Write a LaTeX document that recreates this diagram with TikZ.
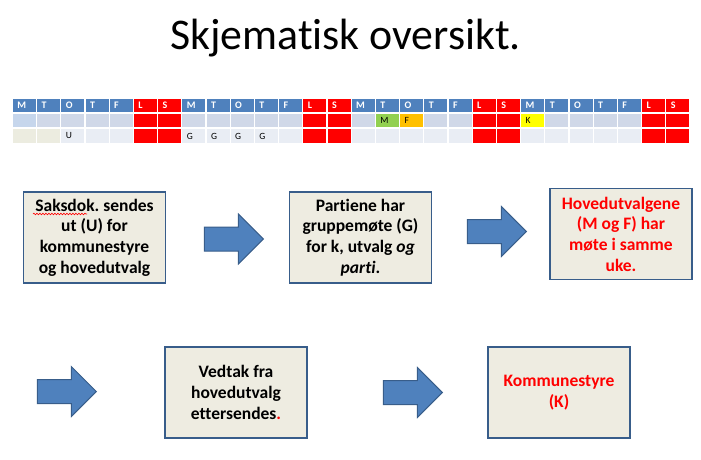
\documentclass[tikz,border=0pt]{standalone}
\usepackage{fontspec}
\setmainfont{Carlito}[Ligatures=NoCommon]
\usetikzlibrary{shapes.arrows,decorations.pathmorphing}
\definecolor{hdblue}{HTML}{4F81BD}
\definecolor{wkend}{HTML}{FF0000}
\definecolor{rowtwo}{HTML}{D0D8E8}
\definecolor{rowthree}{HTML}{E9EDF4}
\definecolor{firstblue}{HTML}{C6D6EC}
\definecolor{cellbeige}{HTML}{ECECE0}
\definecolor{mgreen}{HTML}{92D050}
\definecolor{forange}{HTML}{FFC000}
\definecolor{kyellow}{HTML}{FFFF00}
\definecolor{boxbeige}{HTML}{EEECE1}
\definecolor{boxblue}{HTML}{385D8A}
\definecolor{arrblue}{HTML}{4F81BD}
\frenchspacing

\begin{document}
\begin{tikzpicture}[x=1pt, y=-1pt,
	cell/.style={anchor=north west, inner xsep=4.5pt, inner ysep=0pt, text width=14pt, align=left, minimum height=13.5pt, font=\fontsize{9.5}{10}\selectfont},
	hcell/.style={cell, minimum height=12.5pt, text=white, font=\bfseries\fontsize{10}{10}\selectfont},
	box/.style={draw=boxblue, line width=1.8pt, fill=boxbeige, minimum width=142pt, minimum height=91pt, align=center, font=\bfseries\fontsize{17.5}{20.7}\selectfont},
	blockarrow/.style={single arrow, anchor=tip, draw=boxblue, line width=1pt, fill=arrblue, inner xsep=0pt, inner ysep=11.5pt, minimum height=59pt, single arrow head extend=13pt}]
				\useasboundingbox (0,0) rectangle (701,460);
				\node[anchor=base, font=\fontsize{43.8}{48}\selectfont] (title)at(345.5, 50) {Skjematisk oversikt.};
				\foreach \w in {0,...,3}
				\foreach \d/\lt in {0/M,1/T,2/O,3/T,4/F,5/L,6/S} {
					\pgfmathtruncatemacro\i{7*\w+\d}
					\pgfmathsetmacro\xa{12.7+24.2*\i}
					\ifnum\d>4 \def\hc{wkend}\def\rc{wkend}\def\sc{wkend}\else\def\hc{hdblue}\def\rc{rowtwo}\def\sc{rowthree}\fi
					\node[hcell, fill=\hc] (h\i)at(\xa, 99) {\lt};
					\node[cell, fill=\rc] (a\i)at(\xa, 113.5) {};
					\node[cell, fill=\sc] (b\i)at(\xa, 129) {};
				}
				\node[cell, fill=firstblue] (afirst)at(a0.north west) {};
				\node[cell, fill=cellbeige] (bfirst)at(b0.north west) {};
				\node[cell, fill=cellbeige] (bsecond)at(b1.north west) {};
				\node[cell, fill=mgreen] (mcell)at(a15.north west) {M};
				\node[cell, fill=forange] (fcell)at(a16.north west) {F};
				\node[cell, fill=kyellow] (kcell)at(a21.north west) {K};
				\node[cell] (ucell)at(b2.north west) {U};
				\foreach \g in {7,...,10}
					\node[cell] (gcell\g)at(b\g.north west) {G};
				\node[box] (send)at(94.5, 237.5) {Saksdok. sendes\\ut (U) for\\kommunestyre\\og hovedutvalg};
				\draw[wkend, line width=0.6pt, decorate, decoration={snake, amplitude=0.8pt, segment length=3pt}] (33, 214) -- (87, 214);
				\node[box] (parti)at(360.5, 237.5) {Partiene har\\gruppemøte (G)\\for k, utvalg \textit{og}\\\textit{parti}.};
				\node[box, text=wkend] (hoved)at(621, 234) {Hovedutvalgene\\(M og F) har\\møte i samme\\uke.};
				\node[box] (vedtak)at(236, 392.5) {Vedtak fra\\hovedutvalg\\ettersendes{\color{wkend}.}};
				\node[box, text=wkend] (kommune)at(559, 392.5) {Kommunestyre\\(K)};
				\node[blockarrow] (arrA)at(264, 239) {};
				\node[blockarrow] (arrB)at(527, 231.5) {};
				\node[blockarrow] (arrC)at(97, 391.5) {};
				\node[blockarrow] (arrD)at(443, 392.5) {};
			\end{tikzpicture}
\end{document}
